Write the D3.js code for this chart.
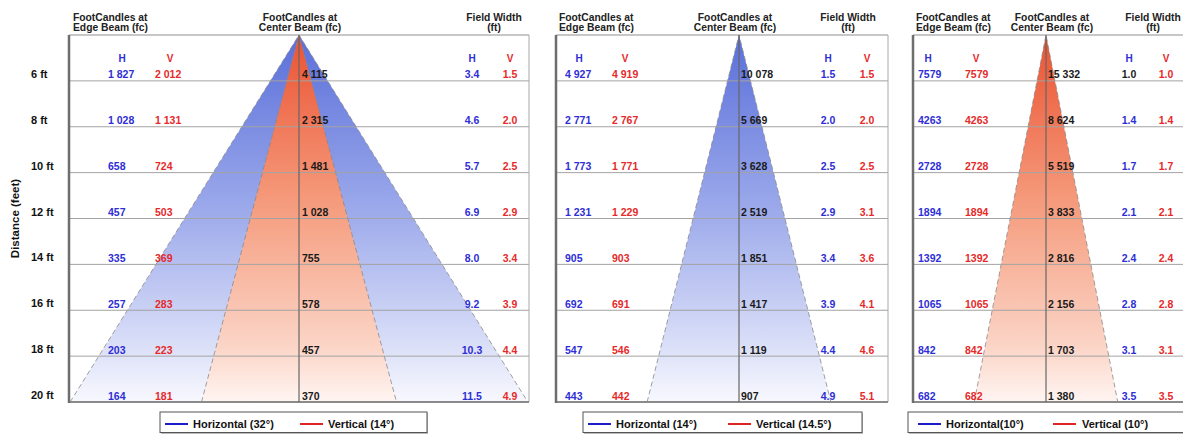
<!DOCTYPE html>
<html><head><meta charset="utf-8">
<script src="https://cdn.jsdelivr.net/npm/d3@7"></script>
<style>
body{margin:0;background:#fff;}
svg{display:block;font-family:"Liberation Sans",Arial,Helvetica,sans-serif;font-weight:bold;}
</style>
</head><body>
<svg id="chart" width="1183" height="434"></svg>
<script>
// ---------------- DATA ----------------
const distances = [6, 8, 10, 12, 14, 16, 18, 20];
const distanceLabels = ["6 ft", "8 ft", "10 ft", "12 ft", "14 ft", "16 ft", "18 ft", "20 ft"];
const axisTitle = "Distance (feet)";
const edgeHeader = ["FootCandles at", "Edge Beam (fc)"];
const centerHeader = ["FootCandles at", "Center Beam (fc)"];
const widthHeader = ["Field Width", "(ft)"];

// Panel 1 : 32° x 14°
const edgeH1 = [1827, 1028, 658, 457, 335, 257, 203, 164];
const edgeV1 = [2012, 1131, 724, 503, 369, 283, 223, 181];
const center1 = [4115, 2315, 1481, 1028, 755, 578, 457, 370];
const fieldH1 = [3.4, 4.6, 5.7, 6.9, 8.0, 9.2, 10.3, 11.5];
const fieldV1 = [1.5, 2.0, 2.5, 2.9, 3.4, 3.9, 4.4, 4.9];

// Panel 2 : 14° x 14.5°
const edgeH2 = [4927, 2771, 1773, 1231, 905, 692, 547, 443];
const edgeV2 = [4919, 2767, 1771, 1229, 903, 691, 546, 442];
const center2 = [10078, 5669, 3628, 2519, 1851, 1417, 1119, 907];
const fieldH2 = [1.5, 2.0, 2.5, 2.9, 3.4, 3.9, 4.4, 4.9];
const fieldV2 = [1.5, 2.0, 2.5, 3.1, 3.6, 4.1, 4.6, 5.1];

// Panel 3 : 10° x 10°
const edgeH3 = [7579, 4263, 2728, 1894, 1392, 1065, 842, 682];
const edgeV3 = [7579, 4263, 2728, 1894, 1392, 1065, 842, 682];
const center3 = [15332, 8624, 5519, 3833, 2816, 2156, 1703, 1380];
const fieldH3 = [1.0, 1.4, 1.7, 2.1, 2.4, 2.8, 3.1, 3.5];
const fieldV3 = [1.0, 1.4, 1.7, 2.1, 2.4, 2.8, 3.1, 3.5];

const legendH = ["Horizontal (32°)", "Horizontal (14°)", "Horizontal(10°)"];
const legendV = ["Vertical (14°)", "Vertical (14.5°)", "Vertical (10°)"];

// ---------------- LAYOUT ----------------
const BLUE_TXT = "#2e2ed6", RED_TXT = "#e62a2a";
const fmtSpace = d3.formatLocale({decimal: ".", thousands: " ", grouping: [3], currency: ["", ""]}).format(",d");
const fmtPlain = d3.format("d");
const fmtW = d3.format(".1f");

const panels = [
  {edgeH: edgeH1, edgeV: edgeV1, center: center1, fieldH: fieldH1, fieldV: fieldV1,
   legH: legendH[0], legV: legendV[0], edgeFmt: fmtSpace,
   left: 69, right: 529, cx: 299, k: 39.8, beams: ["H", "V"],
   xEH: 108, xEV: 155, hdrEH: 122, hdrEV: 170, xC: 302, xFH: 472, xFV: 510,
   hdrEdge: 73, hdrCenter: 300, hdrWidth: 494,
   leg: {x0: 160, x1: 427, l1: 165, t1: 193, l2: 300, t2: 328}},
  {edgeH: edgeH2, edgeV: edgeV2, center: center2, fieldH: fieldH2, fieldV: fieldV2,
   legH: legendH[1], legV: legendV[1], edgeFmt: fmtSpace,
   left: 556, right: 888, cx: 739, k: 37.5, beams: ["H"],
   xEH: 565, xEV: 612, hdrEH: 579, hdrEV: 625, xC: 741, xFH: 828, xFV: 867,
   hdrEdge: 559, hdrCenter: 735, hdrWidth: 848,
   leg: {x0: 583, x1: 862, l1: 588, t1: 616, l2: 728, t2: 756}},
  {edgeH: edgeH3, edgeV: edgeV3, center: center3, fieldH: fieldH3, fieldV: fieldV3,
   legH: legendH[2], legV: legendV[2], edgeFmt: fmtPlain,
   left: 913, right: 1195, cx: 1046, k: 41, beams: ["V"],
   xEH: 918, xEV: 965, hdrEH: 928, hdrEV: 976, xC: 1048, xFH: 1129, xFV: 1166,
   hdrEdge: 916, hdrCenter: 1052, hdrWidth: 1153,
   leg: {x0: 908, x1: 1195, l1: 918, t1: 946, l2: 1053, t2: 1082}}
];

const TOP = 35, BOTTOM = 402;
const y = d3.scaleLinear().domain([4, 20]).range([TOP, BOTTOM]);

const svg = d3.select("#chart");
const defs = svg.append("defs");

function grad(id, stops) {
  const g = defs.append("linearGradient").attr("id", id)
    .attr("x1", 0).attr("y1", 0).attr("x2", 0).attr("y2", 1);
  stops.forEach(s => g.append("stop").attr("offset", s[0]).attr("stop-color", s[1]));
}
grad("gBlue", [[0, "#5a6fd9"], [0.45, "#98a6ea"], [0.8, "#d2d8f6"], [1, "#f7f8fe"]]);
grad("gRed", [[0, "#ea5232"], [0.45, "#f59a7b"], [0.85, "#fbd5c7"], [1, "#fff5f2"]]);

// y-axis title and row labels
svg.append("text").attr("transform", `translate(19,${(y(10) + y(14)) / 2}) rotate(-90)`)
  .attr("text-anchor", "middle").attr("font-size", 11.5).attr("fill", "#111").text(axisTitle);
svg.selectAll("text.rowlab").data(distances).enter().append("text").attr("class", "rowlab")
  .attr("x", 31).attr("y", d => y(d) - 3).attr("font-size", 11).attr("fill", "#111")
  .text((d, i) => distanceLabels[i]);

panels.forEach((p, pi) => {
  const g = svg.append("g");
  const x = d3.scaleLinear().domain([0, 1]).range([p.cx, p.cx + p.k]);
  const last = distances.length - 1;

  // beam triangles
  p.beams.forEach(b => {
    const half = (b === "H" ? p.fieldH[last] : p.fieldV[last]) / 2;
    const pts = [[x(-half), y(20)], [x(0), y(4)], [x(half), y(20)]];
    g.append("path").attr("d", d3.line()(pts) + "Z")
      .attr("fill", b === "H" ? "url(#gBlue)" : "url(#gRed)");
    g.append("path").attr("d", d3.line()(pts))
      .attr("fill", "none").attr("stroke", "#8a8a8a").attr("stroke-width", 1)
      .attr("stroke-dasharray", "5,3").attr("opacity", 0.8);
  });

  // grid lines
  g.selectAll("line.grid").data(distances.slice(0, last)).enter().append("line")
    .attr("x1", p.left).attr("x2", p.right).attr("y1", d => y(d)).attr("y2", d => y(d))
    .attr("stroke", "#a3a3a3").attr("stroke-width", 1);

  // frame
  g.append("line").attr("x1", p.left).attr("x2", p.right).attr("y1", TOP).attr("y2", TOP)
    .attr("stroke", "#8f8f8f").attr("stroke-width", 1.2);
  g.append("line").attr("x1", p.right).attr("x2", p.right).attr("y1", TOP).attr("y2", BOTTOM)
    .attr("stroke", "#a8a8a8").attr("stroke-width", 1);
  g.append("line").attr("x1", p.left).attr("x2", p.right).attr("y1", BOTTOM).attr("y2", BOTTOM)
    .attr("stroke", "#8a8a8a").attr("stroke-width", 2);
  g.append("line").attr("x1", p.left).attr("x2", p.left).attr("y1", TOP).attr("y2", BOTTOM + 1)
    .attr("stroke", "#6e6e6e").attr("stroke-width", 2.5);
  // center line
  g.append("line").attr("x1", x(0)).attr("x2", x(0)).attr("y1", y(4)).attr("y2", y(20))
    .attr("stroke", "#666").attr("stroke-width", 1.2);

  // column headers
  const hdr = (lines, xx, anchor) => {
    lines.forEach((t, i) => g.append("text").attr("x", xx).attr("y", 21 + i * 10)
      .attr("text-anchor", anchor).attr("font-size", 10.3).attr("fill", "#222").text(t));
  };
  hdr(edgeHeader, p.hdrEdge, "start");
  hdr(centerHeader, p.hdrCenter, "middle");
  hdr(widthHeader, p.hdrWidth, "middle");
  [[p.hdrEH, "H", BLUE_TXT], [p.hdrEV, "V", RED_TXT], [p.xFH, "H", BLUE_TXT], [p.xFV, "V", RED_TXT]]
    .forEach(h => g.append("text").attr("x", h[0]).attr("y", 62).attr("text-anchor", "middle")
      .attr("font-size", 10).attr("fill", h[2]).text(h[1]));

  // value columns
  const col = (vals, xx, anchor, color, fmt) => {
    g.selectAll(null).data(vals).enter().append("text")
      .attr("x", xx).attr("y", (d, i) => y(distances[i]) - 2.5)
      .attr("text-anchor", anchor).attr("font-size", 10.5)
      .attr("fill", (d, i) => typeof color === "function" ? color(i) : color)
      .text(fmt);
  };
  col(p.edgeH, p.xEH, "start", BLUE_TXT, p.edgeFmt);
  col(p.edgeV, p.xEV, "start", RED_TXT, p.edgeFmt);
  col(p.center, p.xC, "start", "#1a1a1a", fmtSpace);
  col(p.fieldH, p.xFH, "middle", i => (pi === 2 && i === 0) ? "#222" : BLUE_TXT, fmtW);
  col(p.fieldV, p.xFV, "middle", RED_TXT, fmtW);

  // legend
  const L = p.leg, ly = 424;
  g.append("rect").attr("x", L.x0 + 1).attr("y", 413).attr("width", L.x1 - L.x0).attr("height", 21)
    .attr("fill", "#bbb");
  g.append("rect").attr("x", L.x0).attr("y", 412).attr("width", L.x1 - L.x0).attr("height", 20.5)
    .attr("fill", "#fff").attr("stroke", "#555").attr("stroke-width", 1);
  g.append("line").attr("x1", L.l1).attr("x2", L.l1 + 23).attr("y1", ly).attr("y2", ly)
    .attr("stroke", "#1c1cc8").attr("stroke-width", 2);
  g.append("text").attr("x", L.t1).attr("y", ly + 4).attr("font-size", 11).attr("fill", "#111").text(p.legH);
  g.append("line").attr("x1", L.l2).attr("x2", L.l2 + 23).attr("y1", ly).attr("y2", ly)
    .attr("stroke", "#e02424").attr("stroke-width", 2);
  g.append("text").attr("x", L.t2).attr("y", ly + 4).attr("font-size", 11).attr("fill", "#111").text(p.legV);
});
</script>
</body></html>
